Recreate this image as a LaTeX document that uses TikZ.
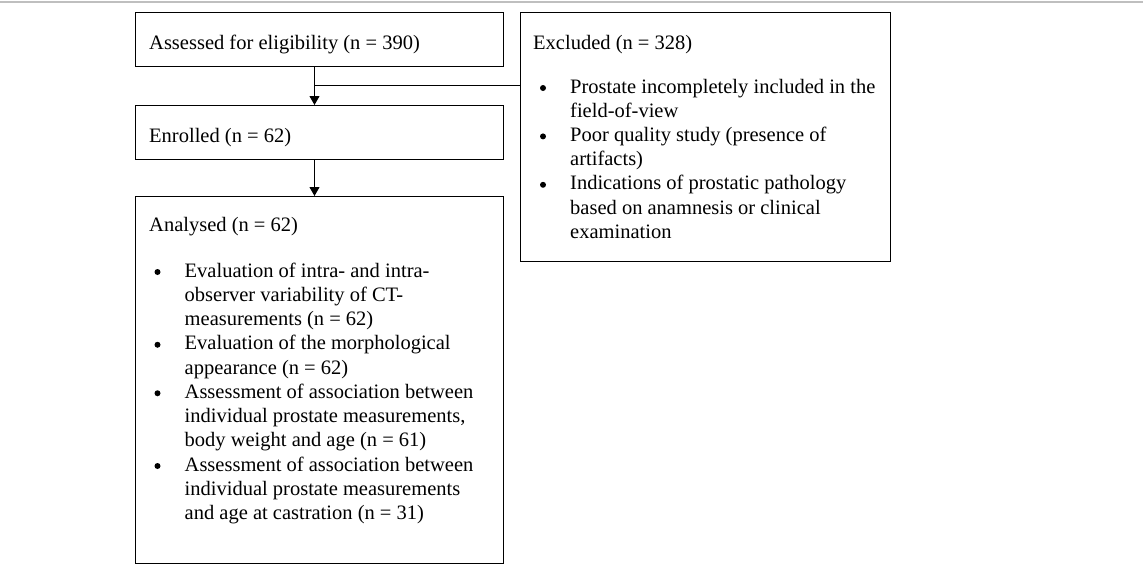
\documentclass[tikz,border=0pt]{standalone}
\usepackage{fontspec}
\setmainfont{Liberation Serif}
\usetikzlibrary{arrows.meta}
\begin{document}
\begin{tikzpicture}[x=1pt,y=-1pt,
  box/.style={draw, line width=1pt, rectangle, inner sep=0pt, anchor=north west},
  txt/.style={inner sep=0pt, anchor=north west, align=left, font=\fontsize{20.5}{24.25}\selectfont},
  dot/.style={circle, fill, inner sep=0pt, minimum size=6pt},
  conn/.style={line width=1pt},
  arr/.style={conn, -{Triangle[width=10pt,length=9pt]}},
  rule/.style={draw=black!25, line width=1.2pt}]
\useasboundingbox (0,0) rectangle (1143,568);
\coordinate (rl) at (0,2);
\coordinate (rr) at (1143,2);
\draw[rule] (rl) -- (rr);
% boxes
\node[box, minimum width=368pt, minimum height=54pt] (assessed) at (135,12) {};
\node[box, minimum width=368pt, minimum height=54pt] (enrolled) at (135,105) {};
\node[box, minimum width=368pt, minimum height=367pt] (analysed) at (135,196) {};
\node[box, minimum width=370pt, minimum height=249pt] (excluded) at (520,12) {};
% titles
\node[txt] (assessedT) at (149,32.5) {\strut Assessed for eligibility (n = 390)};
\node[txt] (enrolledT) at (149,125.5) {\strut Enrolled (n = 62)};
\node[txt] (excludedT) at (533,32) {\strut Excluded (n = 328)};
\node[txt] (analysedT) at (149,214) {\strut Analysed (n = 62)};
% excluded bullets
\node[dot] (xd1) at (543,88) {};
\node[txt] (xt1) at (570,76) {\strut Prostate incompletely included in the\\field-of-view};
\node[dot] (xd2) at (543,136.4) {};
\node[txt] (xt2) at (570,124.4) {\strut Poor quality study (presence of\\artifacts)};
\node[dot] (xd3) at (543,184.8) {};
\node[txt] (xt3) at (570,172.8) {\strut Indications of prostatic pathology\\based on anamnesis or clinical\\examination};
% analysed bullets
\node[dot] (ad1) at (157.5,272) {};
\node[txt] (at1) at (184.5,260) {\strut Evaluation of intra- and intra-\\observer variability of CT-\\measurements (n = 62)};
\node[dot] (ad2) at (157.5,344.75) {};
\node[txt] (at2) at (184.5,332.75) {\strut Evaluation of the morphological\\appearance (n = 62)};
\node[dot] (ad3) at (157.5,393.25) {};
\node[txt] (at3) at (184.5,381.25) {\strut Assessment of association between\\individual prostate measurements,\\body weight and age (n = 61)};
\node[dot] (ad4) at (157.5,466) {};
\node[txt] (at4) at (184.5,454) {\strut Assessment of association between\\individual prostate measurements\\and age at castration (n = 31)};
% connectors
\coordinate (j) at ([xshift=-5pt]assessed.south |- 0,85);
\draw[arr] ([xshift=-5pt]assessed.south) -- ([xshift=-5pt]enrolled.north);
\draw[conn] (j) -- (j -| excluded.west);
\draw[arr] ([xshift=-5pt]enrolled.south) -- ([xshift=-5pt]analysed.north);
\end{tikzpicture}
\end{document}
